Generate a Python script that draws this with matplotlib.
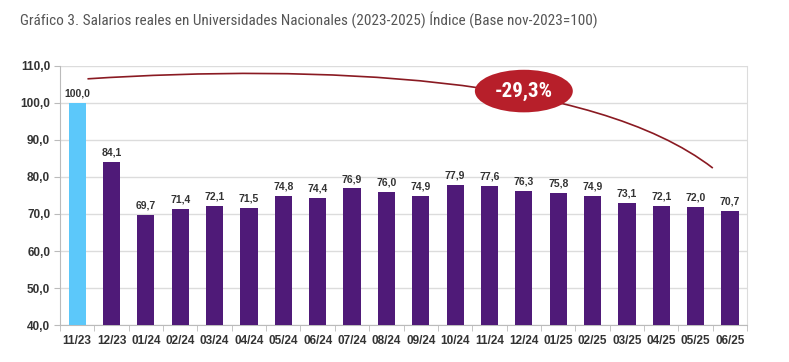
import matplotlib
matplotlib.use("Agg")
import matplotlib.pyplot as plt
from matplotlib.path import Path
from matplotlib.patches import PathPatch, Ellipse

categories = ["11/23", "12/23", "01/24", "02/24", "03/24", "04/24", "05/24", "06/24",
              "07/24", "08/24", "09/24", "10/24", "11/24", "12/24", "01/25", "02/25",
              "03/25", "04/25", "05/25", "06/25"]
values = [100.0, 84.1, 69.7, 71.4, 72.1, 71.5, 74.8, 74.4, 76.9, 76.0, 74.9, 77.9,
          77.6, 76.3, 75.8, 74.9, 73.1, 72.1, 72.0, 70.7]
yticks = [40, 50, 60, 70, 80, 90, 100, 110]
title = "Gráfico 3. Salarios reales en Universidades Nacionales (2023-2025) Índice (Base nov-2023=100)"
badge = "-29,3%"

plt.rcParams['font.family'] = ['Liberation Sans', 'DejaVu Sans']
COND = ['Roboto Condensed', 'DejaVu Sans']

fig = plt.figure(figsize=(7.89, 3.62), dpi=100)
fig.patch.set_facecolor("white")
ax = fig.add_axes([0.076, 0.102, 0.871, 0.716])

colors = ["#5cc8fa"] + ["#4f1a78"] * (len(values) - 1)
x = list(range(len(values)))
ax.bar(x, values, width=0.5, color=colors, zorder=3)
for xi, v in zip(x, values):
    ax.text(xi, v + 1.2, f"{v:.1f}".replace(".", ","), ha="center", va="bottom",
            fontsize=7.5, fontweight="bold", color="#333333", zorder=4)

ax.set_xlim(-0.5, len(values) - 0.5)
ax.set_ylim(40, 110)
ax.set_yticks(yticks)
ax.set_yticklabels([f"{t:.1f}".replace(".", ",") for t in yticks],
                   fontsize=8.5, fontweight="bold", color="#333333")
ax.set_xticks(x)
ax.set_xticklabels(categories, fontsize=8.5, fontweight="bold", color="#333333")
ax.set_xticks([i + 0.5 for i in range(-1, len(values))], minor=True)
ax.tick_params(axis="x", which="major", length=0, pad=7)
ax.tick_params(axis="x", which="minor", length=4, color="#bbbbbb")
ax.tick_params(axis="y", length=4, color="#bbbbbb", pad=3)
ax.grid(axis="y", color="#dcdcdc", linewidth=1, zorder=0)
for s in ["left", "bottom"]:
    ax.spines[s].set_color("#bbbbbb")
ax.spines["right"].set_color("#dcdcdc")
ax.spines["top"].set_visible(False)

# decorative arc
verts = [(0.3, 106.5), (7.0, 110.5), (15.0, 107.5), (18.5, 82.4)]
path = Path(verts, [Path.MOVETO, Path.CURVE4, Path.CURVE4, Path.CURVE4])
ax.add_patch(PathPatch(path, facecolor="none", edgecolor="#8a1a22", linewidth=1.2,
                       zorder=5, clip_on=False))
ax.add_patch(Ellipse((13.0, 103.2), 2.85, 11.5, facecolor="#b71f2a", edgecolor="none",
                     zorder=6, clip_on=False))
btxt = ax.text(13.0, 103.2, badge, ha="center", va="center", fontsize=16, fontweight="bold",
               color="white", zorder=7, family=COND)

ttxt = fig.text(0.025, 0.945, title, fontsize=11, color="#555555", ha="left", va="center",
                family=COND)

# fit widths to the reference
fig.canvas.draw()
r = fig.canvas.get_renderer()
w = ttxt.get_window_extent(r).width
ttxt.set_fontsize(11 * 575.0 / w)
w = btxt.get_window_extent(r).width
btxt.set_fontsize(16 * 58.0 / w)

fig.savefig("out.png", dpi=100, facecolor="white")
